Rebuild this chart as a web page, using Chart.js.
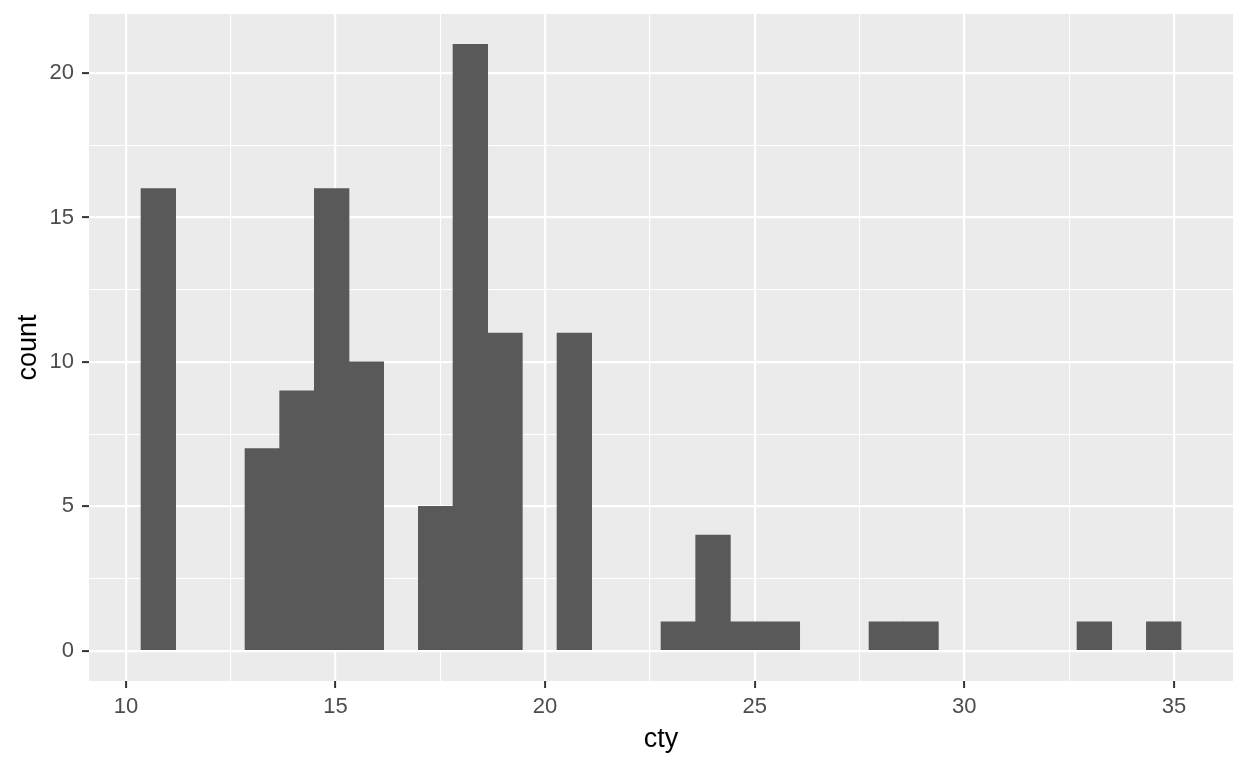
<!DOCTYPE html>
<html>
<head>
<meta charset="utf-8">
<script src="https://cdn.jsdelivr.net/npm/chart.js@4/dist/chart.umd.min.js"></script>
<style>
  html, body { margin: 0; padding: 0; background: #ffffff; }
  #wrap { width: 1248px; height: 768px; }
  canvas { display: block; }
</style>
</head>
<body>
<div id="wrap"><canvas id="c" width="1248" height="768"></canvas></div>
<script>
// Histogram of cty (30 bins) — bin centres and counts
const binCenters = [10.774, 11.601, 12.428, 13.255, 14.082, 14.909, 15.736, 16.563, 17.390, 18.217,
                    19.044, 19.871, 20.698, 21.525, 22.352, 23.179, 24.006, 24.833, 25.660, 26.487,
                    27.314, 28.141, 28.968, 29.795, 30.622, 31.449, 32.276, 33.103, 33.930, 34.757];
const counts = [16, 0, 0, 7, 9, 16, 10, 0, 5, 21,
                11, 0, 11, 0, 0, 1, 4, 1, 1, 0,
                0, 1, 1, 0, 0, 0, 0, 1, 0, 1];
const xTickLabels = [10, 15, 20, 25, 30, 35];
const yTickLabels = [0, 5, 10, 15, 20];
const xTitle = 'cty';
const yTitle = 'count';

const FONT = '"Liberation Sans", Arial, sans-serif';
const isMajor = (v, list) => list.some(t => Math.abs(t - v) < 1e-6);

const panelBg = {
  id: 'panelBg',
  beforeDraw(chart) {
    const { ctx, chartArea: a } = chart;
    ctx.save();
    ctx.fillStyle = '#ffffff';
    ctx.fillRect(0, 0, chart.width, chart.height);
    ctx.fillStyle = '#EBEBEB';
    ctx.fillRect(a.left, a.top, a.right - a.left, a.bottom - a.top);
    ctx.restore();
  }
};

new Chart(document.getElementById('c'), {
  type: 'bar',
  data: {
    datasets: [{
      data: binCenters.map((c, i) => ({ x: c, y: counts[i] })),
      backgroundColor: '#595959',
      borderWidth: 0,
      inflateAmount: c => (c.raw && c.raw.y > 0) ? 0.33 : 0,
      barPercentage: 1.0,
      categoryPercentage: 1.0
    }]
  },
  options: {
    responsive: false,
    animation: false,
    layout: { padding: { top: 14, right: 15, left: 0, bottom: 0 } },
    plugins: { legend: { display: false }, tooltip: { enabled: false } },
    scales: {
      x: {
        type: 'linear',
        min: 9.12,
        max: 36.41,
        offset: false,
        afterFit(s) { s.height = 87; s.paddingLeft = 0; s.paddingRight = 0; },
        border: { display: false },
        grid: {
          offset: false,
          color: '#FFFFFF',
          lineWidth: c => isMajor(c.tick.value, xTickLabels) ? 2.2 : 1.1,
          drawTicks: true,
          tickLength: 7,
          tickWidth: 2,
          tickColor: c => isMajor(c.tick.value, xTickLabels) ? '#333333' : 'rgba(0,0,0,0)'
        },
        ticks: {
          stepSize: 2.5,
          includeBounds: false,
          autoSkip: false,
          maxRotation: 0,
          padding: 6,
          color: '#4D4D4D',
          font: { family: FONT, size: 22 },
          callback: v => isMajor(v, xTickLabels) ? String(v) : ''
        },
        title: {
          display: true,
          text: xTitle,
          color: '#000000',
          font: { family: FONT, size: 27, lineHeight: 1.2 },
          padding: { top: 0, bottom: 12 }
        }
      },
      y: {
        type: 'linear',
        min: -1.05,
        max: 22.05,
        afterFit(s) { s.width = 89; s.paddingTop = 0; s.paddingBottom = 0; },
        border: { display: false },
        grid: {
          color: '#FFFFFF',
          lineWidth: c => isMajor(c.tick.value, yTickLabels) ? 2.2 : 1.1,
          drawTicks: true,
          tickLength: 7,
          tickWidth: 2,
          tickColor: c => isMajor(c.tick.value, yTickLabels) ? '#333333' : 'rgba(0,0,0,0)'
        },
        ticks: {
          stepSize: 2.5,
          includeBounds: false,
          autoSkip: false,
          padding: 8,
          color: '#4D4D4D',
          font: { family: FONT, size: 22 },
          callback: v => isMajor(v, yTickLabels) ? String(v) : ''
        },
        title: {
          display: true,
          text: yTitle,
          color: '#000000',
          font: { family: FONT, size: 27, lineHeight: 1.2 },
          padding: { top: 12, bottom: 0 }
        }
      }
    }
  },
  plugins: [panelBg]
});
</script>
</body>
</html>
